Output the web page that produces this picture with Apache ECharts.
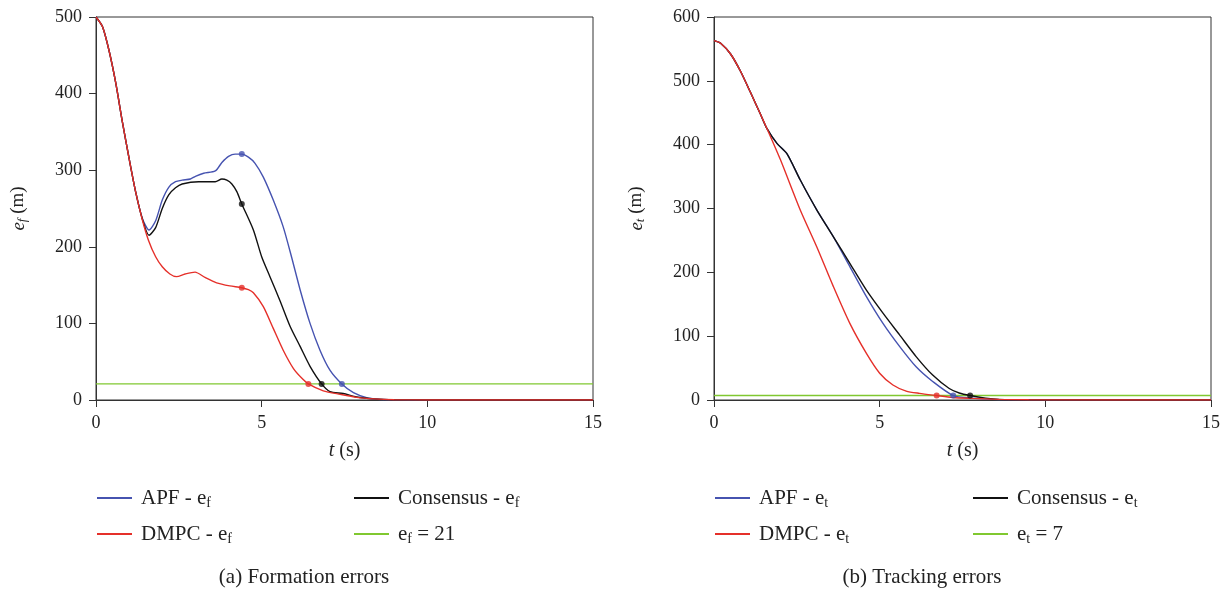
<!DOCTYPE html>
<html><head><meta charset="utf-8">
<script src="https://cdn.jsdelivr.net/npm/echarts@6/dist/echarts.min.js"></script>
<style>html,body{margin:0;padding:0;background:#fff}#c{width:1232px;height:594px}</style>
</head><body><div id="c"></div>
<script>
// ---- Data (t in s, error in m) ----
const apfFormation = [[0,500],[0.2,487],[0.4,455],[0.6,413],[0.8,362],[1.0,315],[1.2,271],[1.4,237],[1.6,222],[1.8,234],[2.0,261],[2.2,278],[2.4,285],[2.6,287],[2.85,288.5],[3.0,292],[3.25,296],[3.6,299],[3.8,310],[4.0,318],[4.2,321],[4.4,321],[4.6,317],[4.8,309],[5.05,291],[5.35,261],[5.65,226],[5.9,187],[6.16,144],[6.46,100],[6.76,65],[7.06,39],[7.42,21],[7.77,9.6],[8.17,3],[8.5,1],[9,0.3],[10,0],[15,0]];
const consensusFormation = [[0,500],[0.2,487],[0.4,455],[0.6,413],[0.8,362],[1.0,315],[1.2,271],[1.4,236],[1.6,215],[1.8,225],[2.0,250],[2.2,268],[2.4,277],[2.6,282],[3.1,285],[3.6,285],[3.8,288.5],[3.95,287],[4.1,282],[4.25,272],[4.4,256],[4.75,222],[5.0,187],[5.25,161],[5.55,130],[5.86,96],[6.16,70],[6.46,44],[6.81,21],[7.06,11],[7.46,8.5],[7.87,4],[8.4,1.5],[9,0.4],[10,0],[15,0]];
const dmpcFormation = [[0,500],[0.2,487],[0.4,455],[0.6,413],[0.8,362],[1.0,315],[1.2,271],[1.4,235],[1.58,209],[1.8,187],[2.0,174],[2.23,164.5],[2.43,161],[2.69,164.5],[2.99,167],[3.29,160],[3.64,153],[4.04,149],[4.4,146.6],[4.6,144],[4.75,140],[5.05,122],[5.35,93.5],[5.65,65],[5.96,41],[6.2,29],[6.41,21],[6.86,12],[7.37,7.4],[7.87,3.5],[8.4,1.5],[9,0.4],[10,0],[15,0]];
const formationThreshold = 21;
const formationMarkers = {apf:[[4.4,321],[7.42,21]], consensus:[[4.4,256],[6.81,21]], dmpc:[[4.4,146.6],[6.41,21]]};

const apfTracking = [[0,563],[0.2,559],[0.5,542],[0.8,515],[1.1,482],[1.4,448],[1.6,425],[1.9,402],[2.2,386],[2.6,345],[3.1,298],[3.6,256],[4.1,209],[4.6,162],[5.1,120],[5.6,84],[6.1,52],[6.6,29],[7.22,7],[7.8,3],[8.4,1],[9.5,0.2],[15,0]];
const consensusTracking = [[0,563],[0.2,559],[0.5,542],[0.8,515],[1.1,482],[1.4,448],[1.6,425],[1.9,402],[2.2,386],[2.6,345],[3.1,298],[3.6,256],[4.1,214],[4.6,172],[5.1,136],[5.6,102],[6.1,68],[6.6,39],[7.1,18],[7.4,11],[7.73,7],[8.2,3],[8.6,1],[9.5,0.2],[15,0]];
const dmpcTracking = [[0,563],[0.2,559],[0.5,542],[0.8,515],[1.1,482],[1.4,448],[1.6,425],[2.0,377],[2.6,298],[3.1,240],[3.6,178],[4.1,120],[4.6,73],[5.0,42],[5.4,23.5],[5.8,14],[6.2,10.4],[6.72,7],[7.2,4],[7.8,2.5],[8.6,1],[9.5,0.3],[15,0]];
const trackingThreshold = 7;
const trackingMarkers = {apf:[[7.22,7]], consensus:[[7.73,7]], dmpc:[[6.72,7]]};

const xTicks = [0,5,10,15];
const formationYMax = 500, trackingYMax = 600, yStep = 100;

// ---- Styles ----
const SERIF = '"Liberation Serif","DejaVu Serif",serif';
const C = {apf:'#4653b0', consensus:'#111111', dmpc:'#e5302a', thr:'#80c830'};
const AX = '#333';
const TXT = '#222';

function xAxis(gi){
  return {type:'value', gridIndex:gi, min:0, max:15, interval:5,
    name:'{i|t}{n| (s)}', nameLocation:'middle', nameGap:41,
    nameTextStyle:{rich:{i:{fontFamily:SERIF,fontSize:20,fontStyle:'italic',color:TXT},n:{fontFamily:SERIF,fontSize:20,color:TXT}}},
    axisLine:{lineStyle:{color:AX,width:1}}, axisTick:{show:true,length:7,lineStyle:{color:AX}},
    axisLabel:{fontFamily:SERIF,fontSize:18,color:TXT,margin:14}, splitLine:{show:false}};
}
function yAxis(gi,max,sub){
  return {type:'value', gridIndex:gi, min:0, max:max, interval:yStep,
    name:'{i|e}{s|'+sub+'}{n| (m)}', nameLocation:'middle', nameGap:67, nameRotate:90,
    nameTextStyle:{rich:{i:{fontFamily:SERIF,fontSize:19,fontStyle:'italic',color:TXT},s:{fontFamily:SERIF,fontSize:13,fontStyle:'italic',color:TXT,padding:[8,0,0,0]},n:{fontFamily:SERIF,fontSize:19,color:TXT}}},
    axisLine:{show:true,lineStyle:{color:AX,width:1}}, axisTick:{show:true,length:7,lineStyle:{color:AX}},
    axisLabel:{fontFamily:SERIF,fontSize:18,color:TXT,margin:14}, splitLine:{show:false}};
}
function line(name,data,color,gi){
  return {name, type:'line', xAxisIndex:gi, yAxisIndex:gi, data, showSymbol:false, smooth:0.25,
    lineStyle:{color,width:1.4}, itemStyle:{color}, animation:false, silent:true};
}
function marks(data,color,gi){
  return {type:'scatter', xAxisIndex:gi, yAxisIndex:gi, data, symbol:'circle', symbolSize:6, itemStyle:{color}, animation:false, silent:true, z:5};
}
function thr(name,val,color,gi){
  return {name, type:'line', xAxisIndex:gi, yAxisIndex:gi, data:[[0,val],[15,val]], showSymbol:false,
    lineStyle:{color,width:1.4}, itemStyle:{color}, animation:false, silent:true};
}
const richLegend = {
  n:{fontFamily:SERIF,fontSize:21,lineHeight:24,color:TXT},
  s:{fontFamily:SERIF,fontSize:14,lineHeight:14,color:TXT,padding:[10,0,0,0]}
};
function legendFmt(name){
  const m = name.match(/^(.*)e_(\w)(.*)$/);
  if(!m) return '{n|'+name+'}';
  return '{n|'+m[1]+'e}{s|'+m[2]+'}'+(m[3]?'{n|'+m[3]+'}':'');
}
function leg(name,left,top){
  return {data:[name], left, top, padding:0, icon:'rect', itemWidth:35, itemHeight:2, itemGap:10,
    textStyle:{rich:richLegend, padding:[0,0,0,4]}, formatter:legendFmt, selectedMode:false};
}

const R1 = 486, R2 = 522;
const option = {
  backgroundColor:'#fff',
  animation:false,
  grid:[
    {left:96, top:17, width:497, height:383, show:true, borderColor:AX, borderWidth:1, backgroundColor:'transparent'},
    {left:714, top:17, width:497, height:383, show:true, borderColor:AX, borderWidth:1, backgroundColor:'transparent'}
  ],
  xAxis:[xAxis(0), xAxis(1)],
  yAxis:[yAxis(0,formationYMax,'f'), yAxis(1,trackingYMax,'t')],
  title:[
    {text:'(a) Formation errors', left:304, top:567, padding:0, textAlign:'center', textStyle:{fontFamily:SERIF,fontSize:21,fontWeight:'normal',color:TXT}},
    {text:'(b) Tracking errors', left:922, top:567, padding:0, textAlign:'center', textStyle:{fontFamily:SERIF,fontSize:21,fontWeight:'normal',color:TXT}}
  ],
  legend:[
    leg('APF - e_f',97,R1), leg('Consensus - e_f',354,R1), leg('DMPC - e_f',97,R2), leg('e_f = 21',354,R2),
    leg('APF - e_t',715,R1), leg('Consensus - e_t',973,R1), leg('DMPC - e_t',715,R2), leg('e_t = 7',973,R2)
  ],
  series:[
    thr('e_f = 21',formationThreshold,C.thr,0),
    line('APF - e_f',apfFormation,C.apf,0),
    line('Consensus - e_f',consensusFormation,C.consensus,0),
    line('DMPC - e_f',dmpcFormation,C.dmpc,0),
    marks(formationMarkers.apf,C.apf,0), marks(formationMarkers.consensus,C.consensus,0), marks(formationMarkers.dmpc,C.dmpc,0),
    thr('e_t = 7',trackingThreshold,C.thr,1),
    line('APF - e_t',apfTracking,C.apf,1),
    line('Consensus - e_t',consensusTracking,C.consensus,1),
    line('DMPC - e_t',dmpcTracking,C.dmpc,1),
    marks(trackingMarkers.apf,C.apf,1), marks(trackingMarkers.consensus,C.consensus,1), marks(trackingMarkers.dmpc,C.dmpc,1)
  ]
};
const chart = echarts.init(document.getElementById('c'), null, {renderer:'canvas'});
chart.setOption(option);
</script></body></html>
